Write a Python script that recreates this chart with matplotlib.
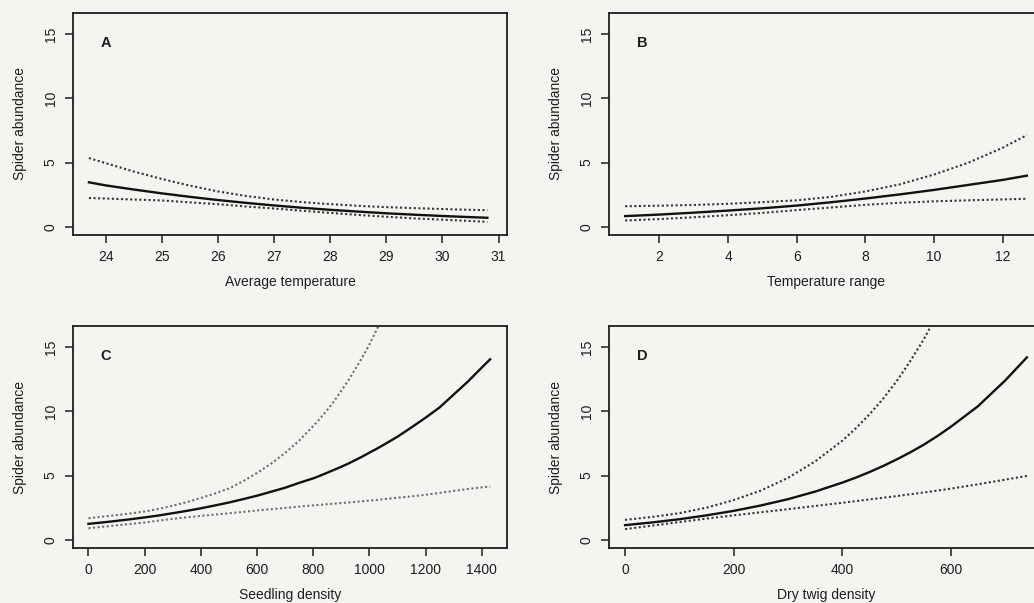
import matplotlib
matplotlib.use('Agg')
import matplotlib.pyplot as plt

plt.rcParams['font.family'] = ['Liberation Sans', 'DejaVu Sans']

# panel A: average temperature
temp_avg = [23.7, 24.0, 24.5, 25.0, 25.5, 26.0, 26.5, 27.0, 27.5, 28.0, 28.5, 29.0, 29.5, 30.0, 30.5, 30.8]
a_fit = [3.46, 3.22, 2.90, 2.60, 2.33, 2.08, 1.86, 1.66, 1.48, 1.32, 1.18, 1.05, 0.94, 0.84, 0.75, 0.70]
a_upper = [5.35, 4.95, 4.30, 3.72, 3.20, 2.75, 2.40, 2.12, 1.92, 1.76, 1.63, 1.53, 1.45, 1.38, 1.32, 1.29]
a_lower = [2.24, 2.20, 2.12, 2.05, 1.90, 1.76, 1.58, 1.42, 1.25, 1.08, 0.92, 0.78, 0.65, 0.55, 0.45, 0.38]

# panel B: temperature range
temp_rng = [1, 2, 3, 4, 5, 6, 7, 8, 9, 10, 11, 12, 12.7]
b_fit = [0.83, 0.95, 1.10, 1.26, 1.44, 1.65, 1.91, 2.20, 2.52, 2.87, 3.26, 3.65, 3.98]
b_upper = [1.60, 1.64, 1.70, 1.79, 1.92, 2.06, 2.33, 2.75, 3.30, 4.07, 4.99, 6.16, 7.13]
b_lower = [0.49, 0.60, 0.74, 0.90, 1.08, 1.30, 1.50, 1.71, 1.87, 1.98, 2.06, 2.13, 2.18]

# panel C: seedling density
seedling = [0, 50, 100, 150, 200, 250, 300, 350, 400, 450, 500, 550, 600, 650, 700, 750,
            800, 825, 850, 875, 900, 925, 950, 975, 1000, 1025, 1050,
            1100, 1150, 1200, 1250, 1300, 1350, 1400, 1430]
c_fit = [1.24, 1.35, 1.47, 1.60, 1.74, 1.89, 2.07, 2.25, 2.45, 2.67, 2.90, 3.16, 3.43, 3.74, 4.05, 4.43,
         4.78, 4.99, 5.22, 5.45, 5.68, 5.93, 6.20, 6.48, 6.78, 7.07, 7.38,
         8.02, 8.75, 9.50, 10.30, 11.30, 12.30, 13.40, 14.05]
c_upper = [1.68, 1.80, 1.92, 2.05, 2.20, 2.40, 2.65, 2.93, 3.25, 3.60, 3.99, 4.55, 5.20, 5.92, 6.75, 7.72,
           8.85, 9.45, 10.10, 10.80, 11.60, 12.40, 13.30, 14.20, 15.20, 16.30, 17.50,
           None, None, None, None, None, None, None, None]
c_lower = [0.90, 1.01, 1.12, 1.23, 1.34, 1.49, 1.63, 1.75, 1.86, 1.96, 2.06, 2.17, 2.28, 2.38, 2.48, 2.58,
           2.68, 2.72, 2.77, 2.81, 2.86, 2.90, 2.95, 3.00, 3.05, 3.10, 3.16,
           3.27, 3.38, 3.50, 3.65, 3.80, 3.95, 4.08, 4.14]

# panel D: dry twig density
twig = [0, 50, 100, 150, 200, 250, 300, 350, 400, 425, 450, 475, 500, 525, 550, 575, 600, 650, 700, 740]
d_fit = [1.14, 1.35, 1.60, 1.90, 2.25, 2.67, 3.16, 3.75, 4.45, 4.84, 5.27, 5.74, 6.25, 6.80, 7.40, 8.07,
         8.80, 10.40, 12.40, 14.20]
d_upper = [1.55, 1.78, 2.07, 2.50, 3.09, 3.83, 4.82, 6.10, 7.71, 8.68, 9.76, 10.97, 12.34, 13.90, 15.60, 17.55,
           19.70, None, None, None]
d_lower = [0.83, 1.10, 1.38, 1.65, 1.90, 2.14, 2.38, 2.63, 2.88, 3.01, 3.14, 3.27, 3.40, 3.54, 3.68, 3.83,
           3.98, 4.32, 4.68, 4.97]

bg = '#f6f4f1'
fig = plt.figure(figsize=(10.34, 6.03), dpi=100, facecolor=bg)

W, H = 1034.0, 603.0
def box(left, top, width=434, height=222):
    return [left / W, (H - top - height) / H, width / W, height / H]

panels = [
    (box(73, 13), temp_avg, a_fit, a_upper, a_lower, (23.416, 31.15), [24, 25, 26, 27, 28, 29, 30, 31],
     'Average temperature', 'A', '#333333'),
    (box(609, 13), temp_rng, b_fit, b_upper, b_lower, (0.53, 13.17), [2, 4, 6, 8, 10, 12],
     'Temperature range', 'B', '#333333'),
    (box(73, 326), seedling, c_fit, c_upper, c_lower, (-55, 1490), list(range(0, 1401, 200)),
     'Seedling density', 'C', '#6e6e6e'),
    (box(609, 326), twig, d_fit, d_upper, d_lower, (-29.6, 769.6), [0, 200, 400, 600],
     'Dry twig density', 'D', '#333333'),
]

for rect, x, fit, up, lo, xlim, xticks, xlabel, letter, ci_col in panels:
    ax = fig.add_axes(rect)
    ax.set_facecolor(bg)

    xu = [xi for xi, v in zip(x, up) if v is not None]
    yu = [v for v in up if v is not None]
    ax.plot(xu, yu, color=ci_col, lw=1.5, linestyle=(0, (1, 1.2)))
    ax.plot(x, lo, color=ci_col, lw=1.5, linestyle=(0, (1, 1.2)))
    ax.plot(x, fit, color='#111111', lw=1.7)

    ax.set_xlim(*xlim)
    ax.set_ylim(-0.64, 16.64)
    ax.set_xticks(xticks)
    ax.set_yticks([0, 5, 10, 15])
    ax.tick_params(direction='out', length=6, width=1.1, colors='#1e1e1e', labelsize=10)
    ax.tick_params(axis='x', pad=5)
    ax.tick_params(axis='y', pad=5)
    for lab in ax.get_yticklabels():
        lab.set_rotation(90)
        lab.set_va('center')
    for s in ax.spines.values():
        s.set_linewidth(1.3)
        s.set_color('#1e1e1e')

    ax.set_xlabel(xlabel, fontsize=10, labelpad=8, color='#1e1e1e')
    ax.set_ylabel('Spider abundance', fontsize=10, labelpad=12, color='#1e1e1e')
    ax.text(0.076, 0.865, letter, transform=ax.transAxes, fontsize=10.5,
            fontweight='bold', color='#1e1e1e', ha='center', va='center')

fig.savefig('out.png', dpi=100, facecolor=bg)
